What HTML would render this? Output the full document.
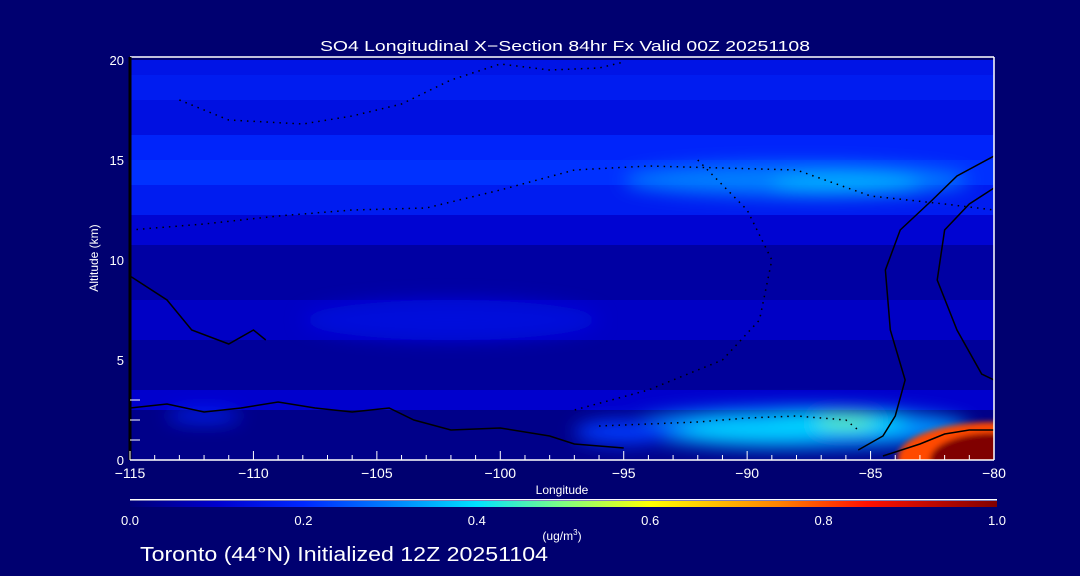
<!DOCTYPE html>
<html><head><meta charset="utf-8">
<style>
html,body{margin:0;padding:0;background:#000070;width:1080px;height:576px;overflow:hidden}
svg text{font-family:"Liberation Sans",sans-serif;fill:#fff}
</style></head>
<body>
<svg id="chart" width="1080" height="576" viewBox="0 0 1080 576" xmlns="http://www.w3.org/2000/svg">
<defs>
<filter id="blur" x="-50%" y="-50%" width="200%" height="200%"><feGaussianBlur stdDeviation="9"/></filter>
<filter id="blur2" x="-50%" y="-50%" width="200%" height="200%"><feGaussianBlur stdDeviation="3"/></filter>
<clipPath id="plotclip"><rect x="130" y="58" width="864" height="402"/></clipPath>
<linearGradient id="cbar" x1="0" x2="1" y1="0" y2="0"></linearGradient>
</defs>
<text x="320" y="51" font-size="15" textLength="490" lengthAdjust="spacingAndGlyphs">SO4 Longitudinal X−Section 84hr  Fx Valid 00Z 20251108</text>
<g id="plot" clip-path="url(#plotclip)"></g>
<g id="axes"></g>
<text x="98" y="258" font-size="12" text-anchor="middle" transform="rotate(-90 98 258)">Altitude (km)</text>
<text x="562" y="494" font-size="12" text-anchor="middle">Longitude</text>
<rect x="130" y="499" width="867" height="1.5" fill="#fff"/>
<rect x="130" y="501" width="867" height="6" fill="url(#cbar)"/>
<g id="cbticks"></g>
<text x="562" y="540" font-size="12" text-anchor="middle">(ug/m<tspan font-size="8" dy="-5">3</tspan><tspan dy="5">)</tspan></text>
<text x="140" y="561" font-size="20" textLength="408" lengthAdjust="spacingAndGlyphs">Toronto (44°N) Initialized 12Z 20251104</text>
</svg>
<script>
// ---- data ----
const bandTops = [20, 19.25, 18, 16.25, 15, 13.75, 12.25, 10.75, 8, 6, 3.5, 2.5];
const bandBottoms = [19.25, 18, 16.25, 15, 13.75, 12.25, 10.75, 8, 6, 3.5, 2.5, 0];
const bandValues = [0.15, 0.17, 0.14, 0.19, 0.21, 0.17, 0.11, 0.05, 0.09, 0.04, 0.10, 0.02];
const blobLon = [-88, -86.5, -89.5, -86, -88, -86, -102, -112, -95];
const blobAlt = [1.6, 1.9, 1.5, 1.9, 14, 13.8, 7, 2.2, 1.4];
const blobLonR = [7, 3, 3, 1.2, 7, 3, 6, 1.5, 2];
const blobAltR = [1.0, 0.5, 0.6, 0.3, 0.8, 0.5, 1.0, 0.3, 0.6];
const blobValues = [0.32, 0.40, 0.38, 0.48, 0.30, 0.35, 0.13, 0.2, 0.22];
const hotLon = [-80, -80];
const hotAlt = [0.1, 0];
const hotLonR = [3.9, 2.6];
const hotAltR = [1.8, 1.35];
const hotValues = [0.8, 1.0];
const xTicks = [-115, -110, -105, -100, -95, -90, -85, -80];
const yTicks = [0, 5, 10, 15, 20];
const cbTicks = [0.0, 0.2, 0.4, 0.6, 0.8, 1.0];
// solid contour lines (lon, alt)
const contourA_lon = [-115, -113.5, -112, -110.5, -109, -107.5, -106, -104.5, -103.5, -102, -100, -98, -97, -95];
const contourA_alt = [2.6, 2.8, 2.4, 2.6, 2.9, 2.6, 2.4, 2.6, 2.0, 1.5, 1.6, 1.2, 0.8, 0.6];
const contourB_lon = [-85.5, -84.5, -84, -83.6, -84.2, -84.4, -83.8, -82.5, -81.5, -80];
const contourB_alt = [0.5, 1.2, 2.2, 4, 6.5, 9.5, 11.5, 13, 14.2, 15.2];
const contourC_lon = [-84.5, -83, -82, -81, -80];
const contourC_alt = [0.2, 0.8, 1.3, 1.5, 1.5];
const contourD_lon = [-115, -113.5, -112.5, -111, -110, -109.5];
const contourD_alt = [9.2, 8, 6.5, 5.8, 6.5, 6];
const contourE_lon = [-80, -81, -82, -82.3, -81.5, -80.5, -80];
const contourE_alt = [13.6, 12.8, 11.5, 9, 6.5, 4.3, 4];
// dotted contour lines
const dotA_lon = [-115, -112, -109, -106, -103, -100, -97, -94, -91, -88, -85, -82, -80];
const dotA_alt = [11.5, 11.8, 12.2, 12.5, 12.6, 13.5, 14.5, 14.7, 14.6, 14.5, 13.2, 12.8, 12.5];
const dotB_lon = [-113, -111, -108, -106, -104, -102, -100, -98, -96, -95];
const dotB_alt = [18, 17, 16.8, 17.2, 17.8, 19, 19.8, 19.5, 19.6, 19.9];
const dotC_lon = [-96, -94, -92, -90, -88, -86, -85.5];
const dotC_alt = [1.7, 1.8, 1.9, 2.1, 2.2, 2.0, 1.5];
const dotD_lon = [-92, -90, -89, -89.5, -91, -94, -97];
const dotD_alt = [15, 12.5, 10, 7, 5, 3.5, 2.5];

// ---- axis functions ----
const X0 = 130, X1 = 994, Y0 = 460, Y1 = 60;
const xs = v => X0 + (v + 115) / 35 * (X1 - X0);
const ys = v => Y0 - v / 20 * (Y0 - Y1);
const stops = [[0,[0,0,120]],[0.1,[0,0,205]],[0.2,[0,40,255]],[0.3,[0,128,255]],[0.4,[0,225,255]],[0.5,[128,255,128]],[0.6,[255,255,0]],[0.75,[255,128,0]],[0.85,[255,16,0]],[1,[128,0,0]]];
function cmap(v){
  v = Math.max(0, Math.min(1, v));
  for (let i = 1; i < stops.length; i++) {
    if (v <= stops[i][0]) {
      const a = stops[i-1], b = stops[i], t = (v - a[0]) / (b[0] - a[0]);
      const c = a[1].map((x, k) => Math.round(x + (b[1][k] - x) * t));
      return `rgb(${c[0]},${c[1]},${c[2]})`;
    }
  }
  return 'rgb(128,0,0)';
}
const NS = 'http://www.w3.org/2000/svg';
function mk(tag, attrs, parent){ const e = document.createElementNS(NS, tag); for (const k in attrs) e.setAttribute(k, attrs[k]); parent.appendChild(e); return e; }
const plot = document.getElementById('plot');
const axes = document.getElementById('axes');

bandValues.forEach((v, i) => {
  const r = mk('rect', {x: X0, y: ys(bandTops[i]), width: X1 - X0, height: ys(bandBottoms[i]) - ys(bandTops[i]), fill: cmap(v)}, plot);
  
  
});
const bg = mk('g', {filter: 'url(#blur)'}, plot);
blobValues.forEach((v, i) => {
  const e = mk('ellipse', {cx: xs(blobLon[i]), cy: ys(blobAlt[i]), rx: xs(blobLon[i] + blobLonR[i]) - xs(blobLon[i]), ry: ys(0) - ys(blobAltR[i]), fill: cmap(v)}, bg);
  
  
});
const hg = mk('g', {filter: 'url(#blur2)'}, plot);
hotValues.forEach((v, i) => {
  const e = mk('ellipse', {cx: xs(hotLon[i]), cy: ys(hotAlt[i]), rx: xs(hotLon[i] + hotLonR[i]) - xs(hotLon[i]), ry: ys(0) - ys(hotAltR[i]), fill: cmap(v)}, hg);
  
  
});
function line(lons, alts, dotted){
  const p = mk('polyline', {points: lons.map((l, i) => xs(l) + ',' + ys(alts[i])).join(' '), fill: 'none', stroke: '#000', 'stroke-width': 1.5, 'stroke-dasharray': dotted ? '1.5 5' : 'none'}, plot);
  
  
}
line(contourA_lon, contourA_alt, false);
line(contourB_lon, contourB_alt, false);
line(contourC_lon, contourC_alt, false);
line(contourD_lon, contourD_alt, false);
line(contourE_lon, contourE_alt, false);
line(dotA_lon, dotA_alt, true);
line(dotB_lon, dotB_alt, true);
line(dotC_lon, dotC_alt, true);
line(dotD_lon, dotD_alt, true);

// frame
mk('line', {x1: X0, y1: 57, x2: X1, y2: 57, stroke: '#fff', 'stroke-width': 1.5}, axes);
mk('line', {x1: X1, y1: 57, x2: X1, y2: Y0, stroke: '#fff', 'stroke-width': 1.5}, axes);
mk('line', {x1: X0, y1: 57, x2: X0, y2: Y0, stroke: '#000', 'stroke-width': 3}, axes);
mk('line', {x1: X0, y1: Y0, x2: X1, y2: Y0, stroke: '#fff', 'stroke-width': 1.5}, axes);
for (let v = -115; v <= -80; v++) {
  const major = v % 5 === 0;
  mk('line', {x1: xs(v), y1: Y0, x2: xs(v), y2: Y0 - (major ? 9 : 5), stroke: '#fff', 'stroke-width': 1}, axes);
}
xTicks.forEach(v => {
  const t = mk('text', {x: xs(v), y: 478, 'font-size': 14, 'text-anchor': 'middle'}, axes);
  t.textContent = String(v).replace('-', '−');
  
  
});
yTicks.forEach(v => {
  const t = mk('text', {x: 124, y: ys(v) + 5, 'font-size': 13, 'text-anchor': 'end'}, axes);
  t.textContent = v;
  
  
});
for (let v = 0; v <= 3; v++) mk('line', {x1: X0, y1: ys(v), x2: X0 + 10, y2: ys(v), stroke: '#fff', 'stroke-width': 1}, axes);

// colorbar
const grad = document.getElementById('cbar');
for (let i = 0; i <= 20; i++) mk('stop', {offset: (i / 20), 'stop-color': cmap(i / 20)}, grad);
const cb = document.getElementById('cbticks');
cbTicks.forEach(v => {
  const t = mk('text', {x: 130 + v * 867, y: 525, 'font-size': 13, 'text-anchor': 'middle'}, cb);
  t.textContent = v.toFixed(1);
  
  
});
</script>
</body></html>
